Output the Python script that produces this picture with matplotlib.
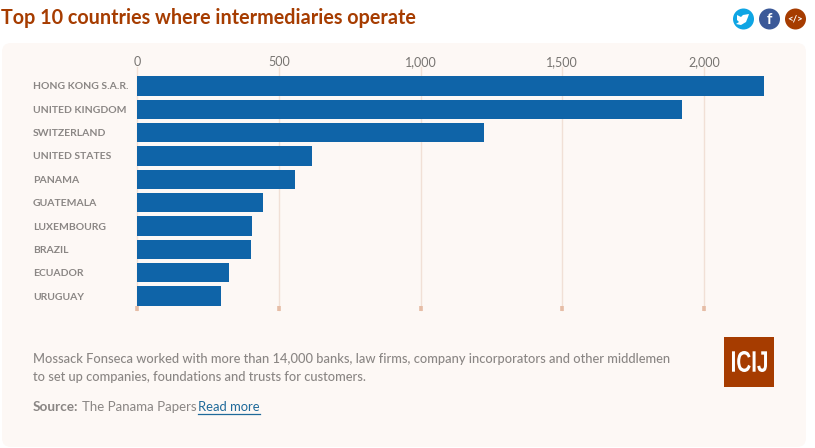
import matplotlib
matplotlib.use("Agg")
import matplotlib.pyplot as plt
from matplotlib.patches import FancyBboxPatch, Circle, Rectangle, Polygon, PathPatch
from matplotlib.textpath import TextPath
from matplotlib.font_manager import FontProperties
from matplotlib.transforms import Affine2D

countries = ["HONG KONG S.A.R.", "UNITED KINGDOM", "SWITZERLAND", "UNITED STATES", "PANAMA",
             "GUATEMALA", "LUXEMBOURG", "BRAZIL", "ECUADOR", "URUGUAY"]
intermediaries = [2212, 1922, 1224, 617, 557, 444, 406, 402, 325, 296]
ticks = [0, 500, 1000, 1500, 2000]
tick_labels = ["0", "500", "1,000", "1,500", "2,000"]

W, H = 815, 448
GREY = "#8a8684"
RUST = "#a63c00"
BLUE = "#0f64a8"

plt.rcParams["font.family"] = ["Lato", "DejaVu Sans"]
fig = plt.figure(figsize=(W / 100, H / 100), dpi=100, facecolor="white")

# --- page layer, in pixels ---
bg = fig.add_axes([0, 0, 1, 1])
bg.set_xlim(0, W)
bg.set_ylim(H, 0)
bg.axis("off")
bg.add_patch(FancyBboxPatch((2, 43), 804, 404, boxstyle="round,pad=0,rounding_size=9",
                            fc="#fdf8f5", ec="none"))

bg.text(1, 18, "Top 10 countries where intermediaries operate", fontsize=14.25,
        fontweight="bold", color=RUST, va="center", ha="left")

# share buttons
bg.add_patch(Circle((743.5, 19), 10.5, fc="#0ea5e4", ec="none"))
bg.add_patch(Polygon([(737, 15), (741, 17), (743, 15), (749, 14), (748, 17), (746, 22),
                      (741, 25), (736, 24), (739, 22), (737, 20)], fc="white", ec="none"))
bg.add_patch(Circle((769.5, 19), 10.5, fc="#3b5998", ec="none"))
bg.text(769.5, 19.5, "f", color="white", fontsize=11, fontweight="bold", ha="center", va="center")
bg.add_patch(Circle((795.5, 19), 10.5, fc=RUST, ec="none"))
bg.text(795.5, 19, "</>", color="white", fontsize=7, fontweight="bold", ha="center", va="center")

# footer text
bg.text(33, 359, "Mossack Fonseca worked with more than 14,000 banks, law firms, company incorporators and other middlemen",
        fontsize=9.27, fontweight="medium", color=GREY, va="center")
bg.text(33, 377, "to set up companies, foundations and trusts for customers.",
        fontsize=9.27, fontweight="medium", color=GREY, va="center")
bg.text(33, 407, "Source:", fontsize=9.8, fontweight="bold", color=GREY, va="center")
bg.text(81.5, 407, "The Panama Papers", fontsize=9.5, color=GREY, va="center")
bg.text(198, 407, "Read more", fontsize=9.4, color="#1f6a9a", va="center")
bg.plot([198, 260], [414.5, 414.5], color="#1f6a9a", lw=0.9)

# ICIJ logo, letters squeezed to the logo's tall narrow shape
bg.add_patch(Rectangle((724, 337), 50, 50, fc=RUST, ec="none"))
logo = TextPath((0, 0), "ICIJ", size=21, prop=FontProperties(family="Liberation Sans", weight="bold"))
box = logo.get_extents()
to_px = (Affine2D().translate(-box.x0, -box.y0).scale(35 / box.width, -21 / box.height)
         .translate(732, 372))
bg.add_patch(PathPatch(logo, transform=to_px + bg.transData, fc="white", ec="none"))

# --- chart ---
x0, px_per_unit = 137, 0.2835
right = 775
top, bottom = 74.3, 307.7
ax = fig.add_axes([x0 / W, 1 - bottom / H, (right - x0) / W, (bottom - top) / H])
ax.patch.set_alpha(0)
ax.set_xlim(0, (right - x0) / px_per_unit)
ax.set_ylim(len(countries) - 0.5, -0.5)

for t in ticks:
    ax.plot([t, t], [-0.82, 9.6], color="#f1e0d6", lw=1, zorder=1, clip_on=False)
    ax.plot([t, t], [9.42, 9.62], color="#e6bda6", lw=2.6, zorder=1, clip_on=False,
            solid_capstyle="butt")

ax.barh(countries, intermediaries, height=0.84, color=BLUE, zorder=2)

for s in ax.spines.values():
    s.set_visible(False)
ax.xaxis.tick_top()
ax.set_xticks(ticks)
ax.set_xticklabels(tick_labels, fontsize=9, color="#777471")
ax.tick_params(axis="x", length=0, pad=4.5)
ax.set_yticks(range(len(countries)))
ax.set_yticklabels(countries, fontsize=7.45, color=GREY, fontweight="bold", ha="left")
ax.tick_params(axis="y", length=0, pad=75)

fig.savefig("out.png", dpi=100)
